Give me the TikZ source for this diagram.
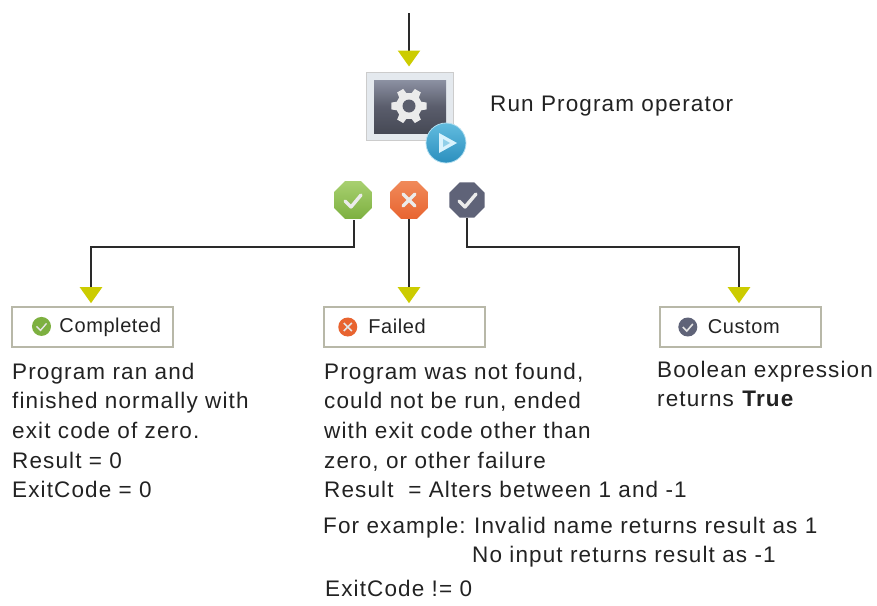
\documentclass[tikz,border=0pt]{standalone}
\usepackage{fontspec}
\setmainfont{Liberation Sans}
\newfontfamily\notefont[LetterSpace=5]{Liberation Sans}
\newfontfamily\boxfont[LetterSpace=3]{Liberation Sans}
\usetikzlibrary{arrows.meta,shapes.geometric,calc}
\definecolor{tipyellow}{HTML}{CCCC00}
\definecolor{boxline}{HTML}{B8B8A8}
\definecolor{linedark}{HTML}{2A2A2A}
\definecolor{txt}{HTML}{222222}
\definecolor{okA}{HTML}{A8D070}
\definecolor{okB}{HTML}{7DB040}
\definecolor{failA}{HTML}{F08A5A}
\definecolor{failB}{HTML}{E86430}
\definecolor{slate}{HTML}{5F6378}
\definecolor{playA}{HTML}{62BCDF}
\definecolor{playB}{HTML}{2B8FBE}
\definecolor{frameC}{HTML}{E4E9EE}
\definecolor{scrA}{HTML}{8C91A2}
\definecolor{scrB}{HTML}{5A5D6C}
\definecolor{scrC}{HTML}{464955}
\tikzset{
  flow/.style={draw=linedark,line width=2.4pt,-{Triangle[length=16pt,width=22pt,color=tipyellow,fill=tipyellow]}},
  statebox/.style={draw=boxline,line width=1.6pt,fill=white,minimum width=161pt,minimum height=40pt,inner sep=0pt,font=\boxfont\fontsize{20}{22}\selectfont,text=txt},
  note/.style={anchor=north west,inner sep=0pt,align=left,font=\notefont\fontsize{22.5}{29.7}\selectfont,text=txt},
  oct/.style={regular polygon,regular polygon sides=8,minimum size=41pt,inner sep=0pt,draw=none},
  tick/.style={draw=white!92!black,line width=3.4pt,line cap=round,line join=round},
}
\newcommand{\minibadge}[3]{\tikz[baseline=-6.5pt,x=1pt,y=1pt]{\fill[#1] (0,0) circle (9.5pt);\draw[white!90!black,line width=#3pt] #2;}}
\begin{document}
\begin{tikzpicture}[x=1pt,y=-1pt]
\useasboundingbox (0,0) rectangle (877,605);
% operator
\node[minimum width=87pt,minimum height=68pt,inner sep=0pt,draw=black!20,line width=1pt,fill=frameC] (op) at (409.5,106) {};
\fill[top color=scrA,bottom color=scrC,middle color=scrB] (374,80) rectangle (446,133);
\coordinate (g) at (409,106);
\fill[white!92!black,line join=round] ($(g)+(-11:18)$)
  \foreach \a in {0,60,...,300}{ -- ($(g)+(\a-11:18)$) -- ($(g)+(\a+11:18)$) -- ($(g)+(\a+19:13)$) -- ($(g)+(\a+41:13)$) } -- cycle;
\fill[scrB] (g) circle (6.5);
\node[circle,minimum size=40pt,inner sep=0pt,top color=playA,bottom color=playB,draw=playA!50!white,line width=.8pt] (play) at (446,143) {};
\fill[white!85!cyan] (439,133) -- (457,143) -- (439,153) -- cycle;
\fill[playA!70!white] (443,139) -- (450,143) -- (443,147) -- cycle;
\node[coordinate] (topfree) at (409,13) {};
\draw[flow,shorten >=5pt] (topfree) -- (op.north -| topfree);
\node[anchor=west,inner sep=0pt,font=\notefont\fontsize{22.5}{24}\selectfont,text=txt] (oplabel) at (490,106) {Run Program operator};
% state icons
\node[oct,top color=okA,bottom color=okB] (ok) at (353,200) {};
\draw[tick] (345,201) -- (351,207) -- (361,195);
\node[oct,top color=failA,bottom color=failB] (fail) at (409,200) {};
\draw[tick] (403,194) -- (415,206) (415,194) -- (403,206);
\node[oct,minimum size=38pt,fill=slate] (cust) at (467,200) {};
\draw[tick] (459,201) -- (465,207) -- (476,194);
% boxes
\node[statebox] (bcomp) at (92.5,327) {\hspace*{8pt}\minibadge{okB}{(-5,0) -- (-1,-4) -- (5,3)}{1.4}\hspace{8.5pt}Completed};
\node[statebox] (bfail) at (404.5,327) {\hspace*{-45pt}\minibadge{failB}{(-4,-4) -- (4,4) (-4,4) -- (4,-4)}{1.6}\hspace{11pt}Failed};
\node[statebox] (bcust) at (740.5,327) {\hspace*{-23pt}\minibadge{slate}{(-5,0) -- (-1,-4) -- (5,3)}{1.6}\hspace{10.5pt}Custom};
% connectors
\draw[flow,shorten >=3pt] (354,220) |- (247,247) -| ([xshift=-1.5pt]bcomp.north);
\draw[flow,shorten >=3pt] (fail.south) -- (fail.south |- bfail.north);
\draw[flow,shorten >=3pt] (cust.south) |- (600,247) -| ([xshift=-1.5pt]bcust.north);
% notes
\node[note] (ncomp) at (12,362.5) {Program ran and\\finished normally with\\exit code of zero.\\Result = 0\\ExitCode = 0};
\node[note] (nfail) at (324,362.5) {Program was not found,\\could not be run, ended\\with exit code other than\\zero, or other failure\\Result\ \ = Alters between 1 and -1};
\node[note] (nex) at (323,516.5) {For example:};
\node[note] (nex1) at (474,516.5) {Invalid name returns result as 1};
\node[note] (nex2) at (472,545.5) {No input returns result as -1};
\node[note] (nec) at (325,579.5) {ExitCode != 0};
\node[note] (ncust) at (657,360.5) {Boolean expression\\returns \textbf{True}};
\end{tikzpicture}
\end{document}
